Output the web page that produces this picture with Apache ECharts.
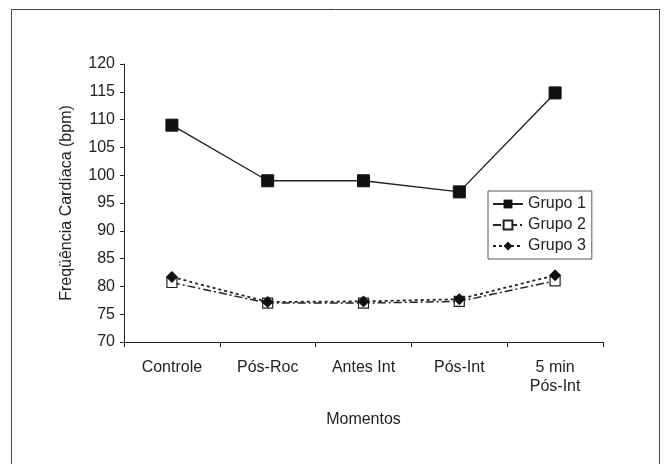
<!DOCTYPE html>
<html><head><meta charset="utf-8">
<script src="https://cdn.jsdelivr.net/npm/echarts@6/dist/echarts.min.js"></script>
<style>html,body{margin:0;padding:0;background:#fff}#c{width:669px;height:464px}</style>
</head><body><div id="c"></div>
<script>
const categories = ['Controle', 'Pós-Roc', 'Antes Int', 'Pós-Int', '5 min\nPós-Int'];
const grupo1 = [109, 99, 99, 97, 114.8];
const grupo2 = [80.7, 77, 77, 77.3, 81];
const grupo3 = [81.7, 77.2, 77.3, 77.7, 82];
const yTicks = [70, 120, 5];

const font = 'Liberation Sans, Arial, sans-serif';
const chart = echarts.init(document.getElementById('c'));
chart.setOption({
  animation: false,
  backgroundColor: '#fff',
  graphic: [{type:'rect', shape:{x:11.5,y:9.5,width:648,height:470}, style:{fill:'none', stroke:'#444', lineWidth:1}}],
  grid: {left:124, right:66, top:64, bottom:122},
  legend: {
    orient:'vertical', left:488, top:191, padding:[5,6,5,4], itemGap:5,
    borderColor:'#555', borderWidth:1, itemWidth:30, itemHeight:11,
    textStyle:{fontFamily:font, fontSize:16, color:'#222'},
    data:['Grupo 1','Grupo 2','Grupo 3']
  },
  xAxis: {
    type:'category', data:categories, boundaryGap:true,
    axisLine:{lineStyle:{color:'#222'}},
    axisTick:{show:true, inside:false, length:5, lineStyle:{color:'#222'}},
    axisLabel:{fontFamily:font, fontSize:16, color:'#222', margin:16, lineHeight:19},
    name:'Momentos', nameLocation:'middle', nameGap:70,
    nameTextStyle:{fontFamily:font, fontSize:16, color:'#222'}
  },
  yAxis: {
    type:'value', min:yTicks[0], max:yTicks[1], interval:yTicks[2],
    axisLine:{show:true, lineStyle:{color:'#222'}},
    axisTick:{show:true, length:4, lineStyle:{color:'#222'}},
    splitLine:{show:false},
    axisLabel:{fontFamily:font, fontSize:16, color:'#222', margin:9},
    name:'Freqüência Cardíaca (bpm)', nameLocation:'middle', nameGap:49,
    nameTextStyle:{fontFamily:font, fontSize:16, color:'#222'}
  },
  series: [
    {name:'Grupo 1', type:'line', data:grupo1, symbol:'rect', symbolSize:12,
     itemStyle:{color:'#111', borderColor:'#111'}, lineStyle:{color:'#222', width:1.4}, z:3},
    {name:'Grupo 2', type:'line', data:grupo2, symbol:'rect', symbolSize:10,
     itemStyle:{color:'#fff', borderColor:'#222', borderWidth:1.2},
     lineStyle:{color:'#222', width:1.5, type:[8,3,2,3]}, z:2},
    {name:'Grupo 3', type:'line', data:grupo3, symbol:'diamond', symbolSize:11,
     itemStyle:{color:'#111', borderColor:'#111'},
     lineStyle:{color:'#222', width:1.8, type:[3,3]}, z:4}
  ]
});
</script></body></html>
